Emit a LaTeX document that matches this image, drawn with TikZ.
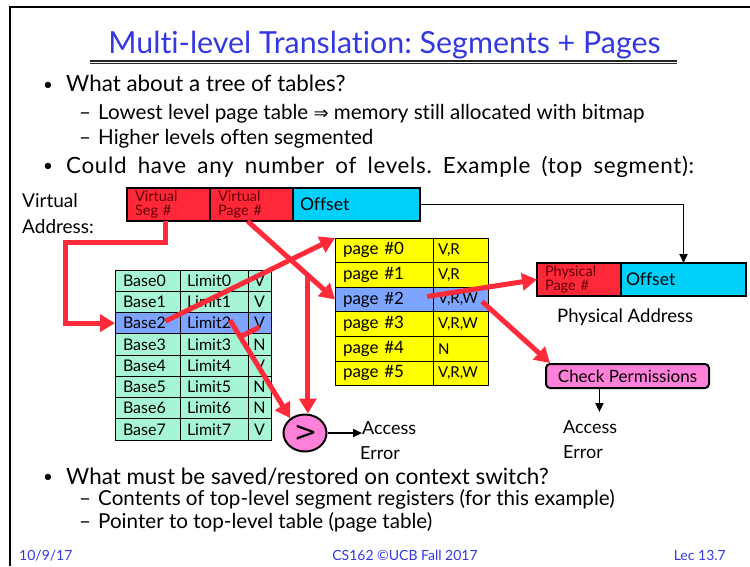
\documentclass[tikz,border=0pt]{standalone}
\usepackage{fontspec}
\setmainfont{Lato}[Ligatures=NoCommon]
\newfontfamily\symfont{DejaVu Sans}
\usetikzlibrary{arrows.meta,shapes.geometric,calc}

\definecolor{slideblue}{RGB}{52,56,226}
\definecolor{ptrred}{RGB}{255,42,58}
\definecolor{boxred}{RGB}{255,40,56}
\definecolor{offcyan}{RGB}{0,208,250}
\definecolor{segmint}{RGB}{166,246,214}
\definecolor{rowblue}{RGB}{125,165,255}
\definecolor{pgyellow}{RGB}{255,255,0}
\definecolor{permpink}{RGB}{255,128,216}
\definecolor{labelred}{RGB}{95,0,8}

\newcommand{\fsz}[2]{\fontsize{#1}{#2}\selectfont}
\frenchspacing

\begin{document}
\begin{tikzpicture}[x=1pt,y=-1pt,
  txt/.style={inner sep=0pt, anchor=base west},
  field/.style={draw=black, line width=2pt, anchor=north west, inner ysep=0pt, outer sep=0pt, align=left},
  redfield/.style={field, fill=boxred, minimum height=33pt, text=labelred, font=\fsz{14.5}{13.5}},
  segcell/.style={draw=black, line width=0.8pt, fill=segmint, anchor=north west,
    minimum height=21.25pt, inner ysep=0pt, outer sep=0pt, font=\fsz{16}{18}},
  pgcell/.style={draw=black, line width=0.8pt, fill=pgyellow, anchor=north west,
    minimum height=24.6pt, inner ysep=0pt, outer sep=0pt, align=left},
  flagcell/.style={pgcell, minimum width=55pt, text width=45pt, inner xsep=5pt, font=\fsz{15}{17}},
  ptr/.style={draw=ptrred, line width=5pt, -{Triangle[length=15pt,width=17pt]}},
  ptrline/.style={draw=ptrred, line width=5pt},
  blk/.style={draw=black, line width=1.8pt, -{Triangle[length=9pt,width=8pt]}},
  bodytext/.style={txt, font=\fsz{22.4}{28}},
  subtext/.style={txt, font=\fsz{20.6}{24}},
  bullet/.style={txt, font=\fsz{17}{20}},
  foot/.style={inner sep=0pt, text=slideblue, font=\fsz{14}{16}},
]
\useasboundingbox (0,0) rectangle (750,566);
\fill[white] (0,0) rectangle (750,566);

% slide frame
\draw[line width=2.5pt] (10,566) -- (10,7) -- (750,7);

% title with double rule
\node[inner sep=0pt, anchor=base, text=slideblue, font=\fsz{30.4}{36}] (title) at (384.5,53)
  {Multi-level Translation: Segments + Pages};
\draw[line width=1.8pt, black!85] (90,60.7) -- (677,60.7);
\draw[line width=0.9pt, black!85] (90,63.8) -- (677,63.8);

% upper bullet list
\node[bullet] (b1) at (43,90) {•};
\node[bodytext] (l1) at (66,91.7) {What about a tree of tables?};
\node[subtext] (d1) at (79,119) {–};
\node[subtext] (l2) at (98,119) {Lowest level page table {\symfont\fsz{18}{24}⇒} memory still allocated with bitmap};
\node[subtext] (d2) at (79,144) {–};
\node[subtext] (l3) at (98,144) {Higher levels often segmented};
\node[bullet] (b2) at (43,171.5) {•};
\node[bodytext] (l4) at (66,173)
  {\addfontfeature{LetterSpace=3}\makebox[628pt][s]{Could have any number of levels. Example (top segment):}};

% virtual address
\node[txt, font=\fsz{19}{24}] (va1) at (22,207) {Virtual};
\node[txt, font=\fsz{19}{24}] (va2) at (22,233) {Address:};
\node[redfield, minimum width=83pt, text width=67pt, inner xsep=8pt] (vseg) at (127,188) {Virtual\\Seg \#};
\node[redfield, minimum width=83pt, text width=67pt, inner xsep=8pt] (vpage) at (210,188) {Virtual\\Page \#};
\node[field, fill=offcyan, minimum width=127pt, minimum height=33pt, text width=113pt,
  inner xsep=7pt, font=\fsz{17.5}{20}] (voff) at (293,188) {Offset};

% physical address
\node[redfield, minimum width=84pt, text width=68pt, inner xsep=8pt] (pseg) at (537,263) {Physical\\Page \#};
\node[field, fill=offcyan, minimum width=125pt, minimum height=33pt, text width=115pt,
  inner xsep=5pt, font=\fsz{17.5}{20}] (poff) at (621,263) {Offset};
\node[txt, font=\fsz{18.6}{22}] (pa) at (557,322) {Physical Address};

% segment table
\foreach \i/\v in {0/V,1/V,2/V,3/N,4/V,5/N,6/N,7/V} {
  \pgfmathsetmacro\yy{270+21.25*\i}
  \ifnum\i=2 \def\rowfill{rowblue}\else\def\rowfill{segmint}\fi
  \node[segcell, fill=\rowfill, minimum width=65pt, text width=49pt, inner xsep=8pt, align=left]
    (base\i) at (115,\yy) {Base\i};
  \node[segcell, fill=\rowfill, minimum width=68pt, text width=54pt, inner xsep=7pt, align=left]
    (limit\i) at (180,\yy) {Limit\i};
  \node[segcell, fill=\rowfill, minimum width=23pt, inner xsep=0pt, align=center]
    (valid\i) at (248,\yy) {\v};
}

% page table
\foreach \i in {0,...,5} {
  \pgfmathsetmacro\yy{238+24.6*\i}
  \ifnum\i=2 \def\rowfill{rowblue}\else\def\rowfill{pgyellow}\fi
  \node[pgcell, fill=\rowfill, minimum width=98pt, text width=82pt, inner xsep=8pt, font=\fsz{17}{20}]
    (pg\i) at (335,\yy) {page \#\i};
}
\node[flagcell] (flag0) at (433,238) {V,R};
\node[flagcell] (flag1) at (433,262.6) {V,R};
\node[flagcell, fill=rowblue] (flag2) at (433,287.2) {V,R,W};
\node[flagcell] (flag3) at (433,311.8) {V,R,W};
\node[flagcell] (flag4) at (433,336.4) {N};
\node[flagcell] (flag5) at (433,361) {V,R,W};

% comparator and permission check
\node[ellipse, draw, line width=2pt, fill=permpink, minimum width=43pt, minimum height=37pt,
  inner sep=0pt] (cmp) at (305,433) {};
\node[inner sep=0pt, font=\symfont\fsz{28}{28}] (gt) at ($(cmp.center)+(0.5,0)$) {>};
\node[txt, font=\fsz{18}{22}] (acc1) at (362,434) {Access};
\node[txt, font=\fsz{18}{22}] (err1) at (360,459) {Error};
\node[draw, line width=2pt, fill=permpink, rounded corners=4pt, minimum width=163pt,
  minimum height=24pt, anchor=north west, inner sep=0pt, font=\fsz{17}{20}] (chk) at (545,363) {Check Permissions};
\node[txt, font=\fsz{18}{22}] (acc2) at (563,433) {Access};
\node[txt, font=\fsz{18}{22}] (err2) at (563,458) {Error};

% red pointers
\coordinate (segbend) at (65,242);
\draw[ptr] ($(vseg.south)+(-3,0)$) |- (segbend) |- (base2.west);
\draw[ptr] ($(base2.center)+(18,-2)$) -- (pg0.north west);
\draw[ptr] ($(vpage.south)+(-4,0)$) -- coordinate[pos=0.69] (pgbranch) (pg2.west);
\draw[ptr] (pgbranch) -- (pgbranch |- cmp.north);
\draw[ptr] ($(limit2.center)+(16,-3)$) -- coordinate[pos=0.17] (vjoin) (cmp.135);
\draw[ptrline] ($(valid2.center)+(0,4)$) -- (vjoin);
\draw[ptr] ($(pg2.east)+(-6,-3)$) -- (pseg.west);
\draw[ptr] ($(flag2.east)+(-6,2)$) -- ($(chk.north west)+(5,0)$);

% black connectors
\draw[blk] (voff.east) -| (poff.north);
\draw[blk] (cmp.east) -- (cmp.east -| acc1.west);
\draw[blk] ($(chk.south west)!0.33!(chk.south east)$) -- ++(0,23);

% lower bullet list
\node[bullet] (b3) at (43,482.5) {•};
\node[bodytext] (l5) at (66,484) {What must be saved/restored on context switch?};
\node[subtext] (d3) at (79,505) {–};
\node[subtext] (l6) at (98,505) {Contents of top-level segment registers (for this example)};
\node[subtext] (d4) at (79,528) {–};
\node[subtext] (l7) at (98,528) {Pointer to top-level table (page table)};

% footer
\node[foot, anchor=base west] (fdate) at (19,560) {10/9/17};
\node[foot, anchor=base] (fcourse) at (405,560) {CS162 ©UCB Fall 2017};
\node[foot, anchor=base east] (flec) at (726,560) {Lec 13.7};
\end{tikzpicture}
\end{document}
